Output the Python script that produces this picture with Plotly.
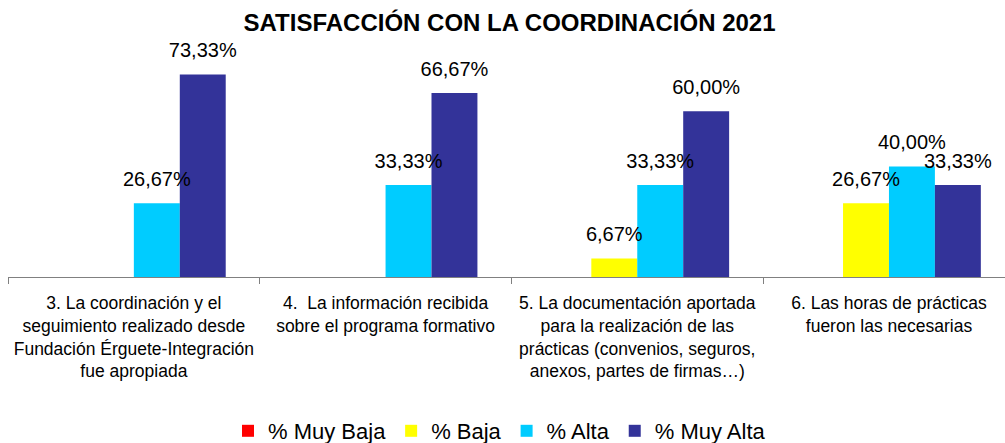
import plotly.graph_objects as go

categories = [
    "3. La coordinación y el<br>seguimiento realizado desde<br>Fundación Érguete-Integración<br>fue apropiada",
    "4.  La información recibida<br>sobre el programa formativo",
    "5. La documentación aportada<br>para la realización de las<br>prácticas (convenios, seguros,<br>anexos, partes de firmas…)",
    "6. Las horas de prácticas<br>fueron las necesarias",
]
series_names = ["% Muy Baja", "% Baja", "% Alta", "% Muy Alta"]
muy_baja = [0, 0, 0, 0]
baja = [0, 0, 6.67, 26.67]
alta = [26.67, 33.33, 33.33, 40.00]
muy_alta = [73.33, 66.67, 60.00, 33.33]
colors = ["#FF0000", "#FFFF00", "#00CCFF", "#333399"]

FONT = "Liberation Sans, Arial, sans-serif"

fig = go.Figure()
all_vals = [muy_baja, baja, alta, muy_alta]
for name, vals, col in zip(series_names, all_vals, colors):
    fig.add_trace(go.Bar(
        x=categories, y=vals, name=name, marker=dict(color=col, line=dict(width=0)),
        hoverinfo="skip",
    ))
# value labels, grouped like the bars
for name, vals in zip(series_names, all_vals):
    texts = [("%.2f%%" % v).replace(".", ",") if v > 0 else "" for v in vals]
    fig.add_trace(go.Scatter(
        x=categories, y=vals, mode="markers+text", text=texts,
        textposition="top center", cliponaxis=False,
        marker=dict(size=18, color="rgba(0,0,0,0)"),
        textfont=dict(family=FONT, size=20, color="#000000"),
        showlegend=False, hoverinfo="skip",
    ))

fig.update_layout(
    width=1005, height=443,
    margin=dict(l=8, r=0, t=50, b=166, autoexpand=False),
    paper_bgcolor="white", plot_bgcolor="white",
    barmode="group", bargap=0.27, bargroupgap=0,
    scattermode="group", scattergap=0.27,
    font=dict(family=FONT, color="#000000"),
    hovermode=False,
    title=dict(text="<b>SATISFACCIÓN CON LA COORDINACIÓN 2021</b>",
               x=0.507, xanchor="center", xref="container",
               y=1 - 23 / 443, yanchor="middle", yref="container",
               font=dict(family=FONT, size=24, color="#000000")),
    xaxis=dict(range=[-0.5, 3.461], showline=True, linecolor="#808080", linewidth=1,
               ticks="outside", tickson="boundaries", ticklen=6, tickcolor="#808080",
               tickfont=dict(family=FONT, size=17.5, color="#000000"),
               ticklabelstandoff=10, showgrid=False, zeroline=False, automargin=False),
    yaxis=dict(range=[0, 82.2], showticklabels=False, showgrid=False,
               zeroline=False, showline=False, ticks="", automargin=False),
    legend=dict(orientation="h", xref="container", x=0.497, xanchor="center",
                yref="container", y=1 - 431 / 443, yanchor="middle",
                font=dict(family=FONT, size=22, color="#000000"),
                itemwidth=30, traceorder="normal"),
    showlegend=True,
)

fig.write_html("out.html", config={"displayModeBar": False, "staticPlot": True},
               post_script="document.body.style.margin='0';")
